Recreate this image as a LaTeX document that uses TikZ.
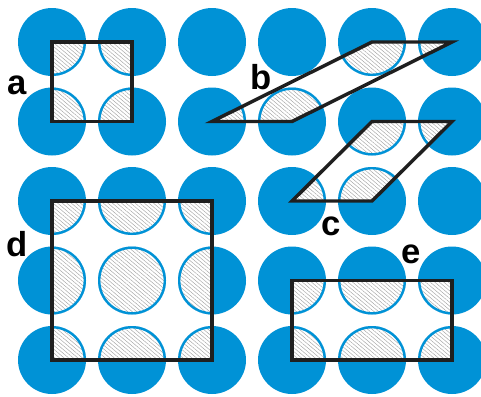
\documentclass[tikz,border=0pt]{standalone}
\usepackage{fontspec}
\setmainfont{Liberation Sans}
\usetikzlibrary{patterns.meta}
\definecolor{cblue}{RGB}{0,146,214}
\newcommand\hatchedcell[1]{%
  \begin{scope}
    \clip #1;
    \foreach \i in {0,...,5}{\foreach \j in {0,...,4}{
      \fill[white] (52+80*\i,42+79.5*\j) circle[radius=34];
      \fill[hatch] (52+80*\i,42+79.5*\j) circle[radius=33];
      \draw[ring] (52+80*\i,42+79.5*\j) circle[radius=32.8];
    }}
  \end{scope}
  \draw[cell] #1;
}
\begin{document}
\begin{tikzpicture}[x=0.75pt,y=-0.75pt,
  disc/.style={fill=cblue},
  hatch/.style={pattern={Lines[angle=-40,distance=2.2pt,line width=0.35pt]},pattern color=gray!70},
  ring/.style={draw=cblue,line width=1.8pt},
  cell/.style={draw=black!88,line width=2.6pt,line join=miter},
  lab/.style={inner sep=0pt,font=\bfseries\fontsize{26}{26}\selectfont}]
\useasboundingbox (0,0) rectangle (481,396);
\clip (0,0) rectangle (481,396);
\fill[white] (0,0) rectangle (481,396);
\foreach \i in {0,...,5}{\foreach \j in {0,...,4}{
  \fill[disc] (52+80*\i,42+79.5*\j) circle[radius=34];
}}
\hatchedcell{(52,42) rectangle (132,121.5)}
\hatchedcell{(212,121.5) -- (292,121.5) -- (452,42) -- (372,42) -- cycle}
\hatchedcell{(292,201) -- (372,201) -- (452,121.5) -- (372,121.5) -- cycle}
\hatchedcell{(52,201) rectangle (212,360)}
\hatchedcell{(292,280.5) rectangle (452,360)}
\node[lab] (la) at (17.5,85) {a};
\node[lab] (lb) at (261.5,77.5) {b};
\node[lab] (lc) at (331.5,226.5) {c};
\node[lab] (ld) at (17,244.5) {d};
\node[lab] (le) at (411,254.5) {e};
\end{tikzpicture}
\end{document}
